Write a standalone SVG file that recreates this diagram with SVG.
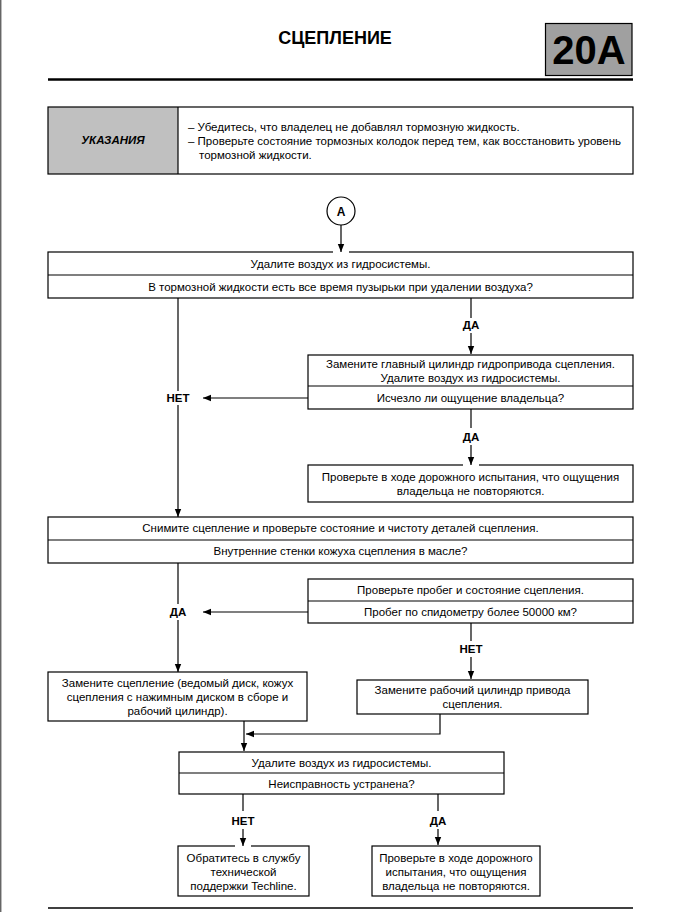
<svg xmlns="http://www.w3.org/2000/svg" width="680" height="912" viewBox="0 0 680 912">
<style>
text{font-family:"Liberation Sans",Arial,sans-serif;font-size:11.5px;fill:#000}
.c{text-anchor:middle}
.b{font-weight:bold}
.box{fill:#fff;stroke:#000;stroke-width:1.2}
.ln{stroke:#000;stroke-width:1.2;fill:none}
</style>
<defs>
<marker id="ah" viewBox="0 0 8 8" refX="8" refY="4" markerWidth="8" markerHeight="8" markerUnits="userSpaceOnUse" orient="auto">
<path d="M0,0.8 L8,4 L0,7.2 Z" fill="#000"/>
</marker>
</defs>
<rect width="680" height="912" fill="#fff"/>
<line x1="0.7" y1="0" x2="0.7" y2="912" stroke="#666" stroke-width="1.5"/>
<g id="header">
<text class="c b" x="335" y="44" style="font-size:18px">СЦЕПЛЕНИЕ</text>
<rect x="545.5" y="23.5" width="86.5" height="52" fill="#a0a0a0" stroke="#000" stroke-width="1.2"/>
<text class="c b" x="589" y="63.5" style="font-size:40px">20A</text>
<line x1="48" y1="79.5" x2="633" y2="79.5" stroke="#000" stroke-width="2.6"/>
</g>
<g id="notes">
<rect x="48" y="107" width="130" height="67" fill="#c0c0c0"/>
<rect x="48" y="107" width="585" height="67" fill="none" stroke="#000" stroke-width="1.2"/>
<line x1="178" y1="107" x2="178" y2="174" stroke="#000" stroke-width="1.2"/>
<text class="c b" x="113" y="143.5" style="font-style:italic">УКАЗАНИЯ</text>
<text x="188" y="131">– Убедитесь, что владелец не добавлял тормозную жидкость.</text>
<text x="188" y="145">– Проверьте состояние тормозных колодок перед тем, как восстановить уровень</text>
<text x="199" y="159">тормозной жидкости.</text>
</g>
<g id="startA">
<circle cx="341" cy="211" r="14" fill="#fff" stroke="#000" stroke-width="1.2"/>
<text class="c b" x="341" y="215.5" style="font-size:12px">A</text>
</g>
<g id="n1">
<rect class="box" x="48" y="252" width="585" height="46"/>
<line class="ln" x1="48" y1="275" x2="633" y2="275"/>
<text class="c" x="340.5" y="268">Удалите воздух из гидросистемы.</text>
<text class="c" x="340.5" y="291">В тормозной жидкости есть все время пузырьки при удалении воздуха?</text>
</g>
<g id="n2">
<rect class="box" x="308" y="355" width="325" height="54"/>
<line class="ln" x1="308" y1="386" x2="633" y2="386"/>
<text class="c" x="470.5" y="368">Замените главный цилиндр гидропривода сцепления.</text>
<text class="c" x="470.5" y="382">Удалите воздух из гидросистемы.</text>
<text class="c" x="470.5" y="402">Исчезло ли ощущение владельца?</text>
</g>
<g id="n3">
<rect class="box" x="308" y="465" width="325" height="37"/>
<text class="c" x="470.5" y="481">Проверьте в ходе дорожного испытания, что ощущения</text>
<text class="c" x="470.5" y="495">владельца не повторяются.</text>
</g>
<g id="n4">
<rect class="box" x="48" y="517" width="585" height="46"/>
<line class="ln" x1="48" y1="540" x2="633" y2="540"/>
<text class="c" x="340.5" y="532">Снимите сцепление и проверьте состояние и чистоту деталей сцепления.</text>
<text class="c" x="340.5" y="555">Внутренние стенки кожуха сцепления в масле?</text>
</g>
<g id="n5">
<rect class="box" x="308" y="579" width="325" height="44"/>
<line class="ln" x1="308" y1="601" x2="633" y2="601"/>
<text class="c" x="470.5" y="594">Проверьте пробег и состояние сцепления.</text>
<text class="c" x="470.5" y="616">Пробег по спидометру более 50000 км?</text>
</g>
<g id="n6">
<rect class="box" x="48" y="672" width="259" height="49"/>
<text class="c" x="177.5" y="687">Замените сцепление (ведомый диск, кожух</text>
<text class="c" x="177.5" y="701">сцепления с нажимным диском в сборе и</text>
<text class="c" x="177.5" y="715">рабочий цилиндр).</text>
</g>
<g id="n7">
<rect class="box" x="357" y="680" width="231" height="34"/>
<text class="c" x="472.5" y="694">Замените рабочий цилиндр привода</text>
<text class="c" x="472.5" y="708">сцепления.</text>
</g>
<g id="n8">
<rect class="box" x="179" y="752" width="325" height="42"/>
<line class="ln" x1="179" y1="773" x2="504" y2="773"/>
<text class="c" x="341.5" y="767">Удалите воздух из гидросистемы.</text>
<text class="c" x="341.5" y="788">Неисправность устранена?</text>
</g>
<g id="n9">
<rect class="box" x="178" y="846" width="131" height="50"/>
<text class="c" x="243.5" y="862">Обратитесь в службу</text>
<text class="c" x="243.5" y="876">технической</text>
<text class="c" x="243.5" y="890">поддержки Techline.</text>
</g>
<g id="n10">
<rect class="box" x="372" y="846" width="168" height="50"/>
<text class="c" x="456" y="862">Проверьте в ходе дорожного</text>
<text class="c" x="456" y="876">испытания, что ощущения</text>
<text class="c" x="456" y="890">владельца не повторяются.</text>
</g>
<g id="connectors">
<rect x="333" y="250" width="16" height="4" fill="#fff"/>
<rect x="463" y="463" width="16" height="4" fill="#fff"/>
<rect x="235" y="844" width="16" height="4" fill="#fff"/>
<line class="ln" x1="341" y1="225" x2="341" y2="252" marker-end="url(#ah)"/>
<line class="ln" x1="178" y1="298" x2="178" y2="391"/>
<line class="ln" x1="178" y1="405" x2="178" y2="517" marker-end="url(#ah)"/>
<line class="ln" x1="471" y1="298" x2="471" y2="318"/>
<line class="ln" x1="471" y1="333" x2="471" y2="354" marker-end="url(#ah)"/>
<line class="ln" x1="308" y1="398" x2="203" y2="398" marker-end="url(#ah)"/>
<line class="ln" x1="471" y1="409" x2="471" y2="428"/>
<line class="ln" x1="471" y1="445" x2="471" y2="465" marker-end="url(#ah)"/>
<line class="ln" x1="178" y1="563" x2="178" y2="604"/>
<line class="ln" x1="178" y1="620" x2="178" y2="672" marker-end="url(#ah)"/>
<line class="ln" x1="308" y1="612" x2="203" y2="612" marker-end="url(#ah)"/>
<line class="ln" x1="471" y1="623" x2="471" y2="641"/>
<line class="ln" x1="471" y1="657" x2="471" y2="679" marker-end="url(#ah)"/>
<line class="ln" x1="244" y1="721" x2="244" y2="751" marker-end="url(#ah)"/>
<polyline class="ln" points="440,714 440,734 246,734" marker-end="url(#ah)"/>
<line class="ln" x1="243" y1="794" x2="243" y2="811"/>
<line class="ln" x1="243" y1="829" x2="243" y2="846" marker-end="url(#ah)"/>
<line class="ln" x1="438" y1="794" x2="438" y2="811"/>
<line class="ln" x1="438" y1="829" x2="438" y2="845" marker-end="url(#ah)"/>
<text class="c b" x="178" y="402">НЕТ</text>
<text class="c b" x="471" y="329">ДА</text>
<text class="c b" x="471" y="441">ДА</text>
<text class="c b" x="178" y="616">ДА</text>
<text class="c b" x="471" y="653">НЕТ</text>
<text class="c b" x="243" y="825">НЕТ</text>
<text class="c b" x="438" y="825">ДА</text>
</g>
<line x1="48" y1="908" x2="633" y2="908" stroke="#000" stroke-width="1.5"/>
</svg>
